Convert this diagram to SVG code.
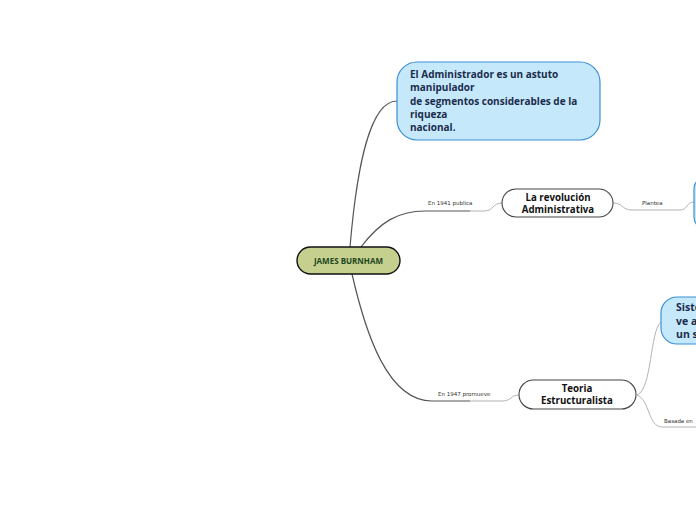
<svg xmlns="http://www.w3.org/2000/svg" width="696" height="520" viewBox="0 0 696 520">
<style>
.main{fill:none;stroke:#555;stroke-width:1.2}
.sub{fill:none;stroke:#aaa;stroke-width:0.9}
.lbl{font-family:"DejaVu Sans",Verdana,sans-serif;font-size:5.5px;fill:#333}
.blue{fill:#c6e8fb;stroke:#3d8fd6;stroke-width:1.2}
.btxt{font-family:"Open Sans","Noto Sans",sans-serif;font-weight:bold;fill:#1b2c4c}
.wnode{fill:#fff;stroke:#444;stroke-width:1.1}
.wtxt{font-family:"Open Sans","Noto Sans",sans-serif;font-weight:bold;font-size:9.7px;fill:#111;text-anchor:middle}
</style>
<rect width="696" height="520" fill="#fff"/>
<g id="connectors">
<path class="main" d="M350,247 C357,165 370,101 397,101"/>
<path class="main" d="M361,247 C380,222 398,211 425,211 L470,211"/>
<path class="sub" d="M470,211 L484,211 C494,211 492,203 502,203"/>
<text class="lbl" x="428" y="205">En 1941 publica</text>
<path class="sub" d="M613,203 C623,203 622,210 632,210 L680,210 C688,210 686,202 694,202"/>
<text class="lbl" x="642" y="205">Plantea</text>
<path class="main" d="M352,274 C366,335 388,401 432,401 L470,401"/>
<path class="sub" d="M470,401 L502,401 C512,401 510,395 519,395"/>
<text class="lbl" x="438" y="396">En 1947 promueve</text>
<path class="sub" d="M637,395 C652,390 650,330 661,322"/>
<path class="sub" d="M637,395 C650,400 648,427 662,427 L696,427"/>
<text class="lbl" x="664" y="423">Basada en</text>
</g>
<g id="james-burnham">
<rect x="297" y="247" width="103" height="27" rx="13.5" fill="#c5d08f" stroke="#111" stroke-width="1.4"/>
<text x="348.5" y="263.5" font-family="'Open Sans','Noto Sans',sans-serif" font-weight="bold" font-size="8px" fill="#1e4620" text-anchor="middle">JAMES BURNHAM</text>
</g>
<g id="administrador">
<rect class="blue" x="397" y="62" width="203" height="78" rx="20"/>
<text class="btxt" font-size="10px"><tspan x="410" y="78">El Administrador es un astuto</tspan><tspan x="410" y="91.3">manipulador</tspan><tspan x="410" y="104.6">de segmentos considerables de la</tspan><tspan x="410" y="117.9">riqueza</tspan><tspan x="410" y="131.2">nacional.</tspan></text>
</g>
<g id="revolucion">
<rect class="wnode" x="502" y="189" width="111" height="28" rx="14"/>
<text class="wtxt"><tspan x="558" y="200.5">La revolución</tspan><tspan x="558" y="212.5">Administrativa</tspan></text>
</g>
<g id="plantea-node">
<rect class="blue" x="694" y="177" width="40" height="52" rx="12"/>
</g>
<g id="teoria">
<rect class="wnode" x="519" y="380" width="117" height="29" rx="14.5"/>
<text class="wtxt"><tspan x="577" y="391.5">Teoria</tspan><tspan x="577" y="403.5">Estructuralista</tspan></text>
</g>
<g id="sistemas">
<rect class="blue" x="661" y="297" width="80" height="47" rx="16"/>
<text class="btxt" font-size="10.5px"><tspan x="676" y="310.5">Siste</tspan><tspan x="676" y="324.5">ve a</tspan><tspan x="676" y="338">un s</tspan></text>
</g>
</svg>
